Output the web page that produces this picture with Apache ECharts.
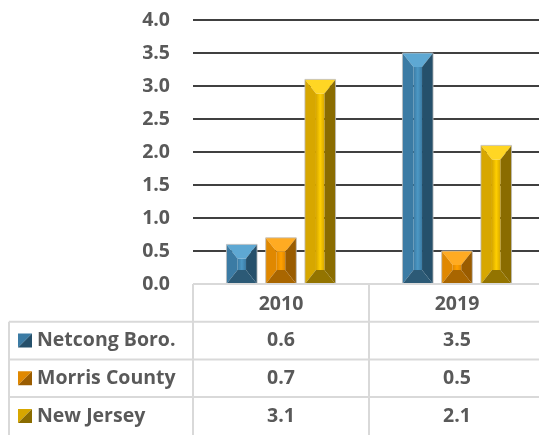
<!DOCTYPE html>
<html>
<head>
<meta charset="utf-8">
<script src="https://cdn.jsdelivr.net/npm/echarts@6/dist/echarts.min.js"></script>
<style>
  html, body { margin: 0; padding: 0; background: #fff; }
  #chart { width: 539px; height: 435px; }
</style>
</head>
<body>
<div id="chart"></div>
<script>
const categories = ['2010', '2019']
const seriesNames = ['Netcong Boro.', 'Morris County', 'New Jersey']
const netcong = [0.6, 3.5]
const morris = [0.7, 0.5]
const newJersey = [3.1, 2.1]
const allValues = [netcong, morris, newJersey]
const yMin = 0, yMax = 4, yStep = 0.5

// bevel shades per series: top, light centre, left face, right face, bottom
const shades = [
  { top: '#5ea8d3', light: '#4c98c5', mid: '#3b7ba4', dark: '#25506b', bottom: '#2c5a76' },
  { top: '#ffab22', light: '#ffa000', mid: '#e08800', dark: '#9a5c00', bottom: '#a96600' },
  { top: '#ffd624', light: '#ffcf00', mid: '#d7a700', dark: '#8a6c00', bottom: '#937400' }
]

const textColor = '#595959'
const font = '"Open Sans", "Liberation Sans", sans-serif'
const tableLine = '#d9d9d9'

const chart = echarts.init(document.getElementById('chart'))

const renderBevel = (params, api) => {
  const s = shades[params.seriesIndex]
  const top = api.coord([api.value(0), api.value(1)])
  const base = api.coord([api.value(0), 0])
  const band = api.size([1, 0])[0]
  const w = band * 0.174
  const step = band * 0.223
  const cx = top[0] + (params.seriesIndex - 1) * step
  const x0 = cx - w / 2, x1 = cx + w / 2
  const yt = top[1], yb = base[1]
  const h = w * 0.36
  const v = Math.min(14, (yb - yt) / 2)
  const poly = (pts, fill) => ({ type: 'polygon', shape: { points: pts }, style: { fill: fill } })
  return {
    type: 'group',
    children: [
      {
        type: 'rect',
        shape: { x: x0 + h, y: yt + v, width: x1 - x0 - 2 * h, height: Math.max(0, yb - yt - 2 * v) },
        style: {
          fill: new echarts.graphic.LinearGradient(0, 0, 1, 0, [
            { offset: 0, color: s.mid },
            { offset: 0.5, color: s.light },
            { offset: 1, color: s.mid }
          ])
        }
      },
      poly([[x0, yt], [x1, yt], [x1 - h, yt + v], [x0 + h, yt + v]], s.top),
      poly([[x0, yt], [x0 + h, yt + v], [x0 + h, yb - v], [x0, yb]], s.mid),
      poly([[x1, yt], [x1, yb], [x1 - h, yb - v], [x1 - h, yt + v]], s.dark),
      poly([[x0, yb], [x1, yb], [x1 - h, yb - v], [x0 + h, yb - v]], s.bottom),
      {
        type: 'rect',
        shape: { x: x0, y: yt, width: w, height: yb - yt },
        style: { fill: null, stroke: 'rgba(190,190,190,0.8)', lineWidth: 1 }
      }
    ]
  }
}

chart.setOption({
  animation: false,
  grid: { left: 193, width: 352, top: 20, bottom: 151, outerBoundsMode: 'none', containLabel: false },
  xAxis: {
    type: 'category',
    data: categories,
    axisTick: { show: false },
    axisLine: { show: false },
    axisLabel: { margin: 10, color: textColor, fontFamily: font, fontWeight: 'bold', fontSize: 19.5 }
  },
  yAxis: {
    type: 'value',
    min: yMin,
    max: yMax,
    interval: yStep,
    axisLine: { show: false },
    axisTick: { show: false },
    axisLabel: {
      margin: 23,
      color: textColor,
      fontFamily: font,
      fontWeight: 'bold',
      fontSize: 19.5,
      formatter: v => v.toFixed(1)
    },
    splitLine: { showMinLine: false, lineStyle: { color: '#000', width: 1.6 } }
  },
  series: allValues.map((vals, i) => ({
    name: seriesNames[i],
    type: 'custom',
    renderItem: renderBevel,
    clip: false,
    encode: { x: 0, y: 1 },
    data: vals.map((v, k) => [k, v])
  }))
})

// ===== data table under the plot =====
const centers = categories.map((c, i) => chart.convertToPixel({ xAxisIndex: 0 }, i))
const band = centers[1] - centers[0]
const y0 = chart.convertToPixel({ yAxisIndex: 0 }, 0)
const rowH = 37.7
const tableLeft = 9
const plotLeft = centers[0] - band / 2
const bottom = 440
const right = 560

const line = (x1, y1, x2, y2) => ({
  type: 'line', z: 10,
  shape: { x1: x1, y1: y1, x2: x2, y2: y2 },
  style: { stroke: tableLine, lineWidth: 2 }
})

const graphics = []
graphics.push(line(plotLeft, y0, right, y0))
for (let k = 1; k <= 3; k++) graphics.push(line(tableLeft, y0 + rowH * k, right, y0 + rowH * k))
graphics.push(line(tableLeft, y0 + rowH, tableLeft, bottom))
for (let i = 0; i <= categories.length; i++) {
  const x = plotLeft + band * i
  graphics.push(line(x, y0, x, bottom))
}

seriesNames.forEach((name, i) => {
  const cy = y0 + rowH * (i + 1.5)
  const s = shades[i]
  const kx = 18, ky = cy - 7, ks = 14
  graphics.push({
    type: 'polygon', z: 11,
    shape: { points: [[kx, ky], [kx + ks, ky], [kx, ky + ks]] },
    style: { fill: s.mid }
  })
  graphics.push({
    type: 'polygon', z: 11,
    shape: { points: [[kx + ks, ky], [kx + ks, ky + ks], [kx, ky + ks]] },
    style: { fill: s.dark }
  })
  graphics.push({
    type: 'text', z: 11,
    x: 37, y: cy,
    style: {
      text: name, fill: textColor, font: 'bold 19.5px ' + font,
      textAlign: 'left', textVerticalAlign: 'middle'
    }
  })
  allValues[i].forEach((v, k) => {
    graphics.push({
      type: 'text', z: 11,
      x: centers[k], y: cy,
      style: {
        text: v.toFixed(1), fill: textColor, font: 'bold 19.5px ' + font,
        textAlign: 'center', textVerticalAlign: 'middle'
      }
    })
  })
})

chart.setOption({ graphic: graphics })
</script>
</body>
</html>
